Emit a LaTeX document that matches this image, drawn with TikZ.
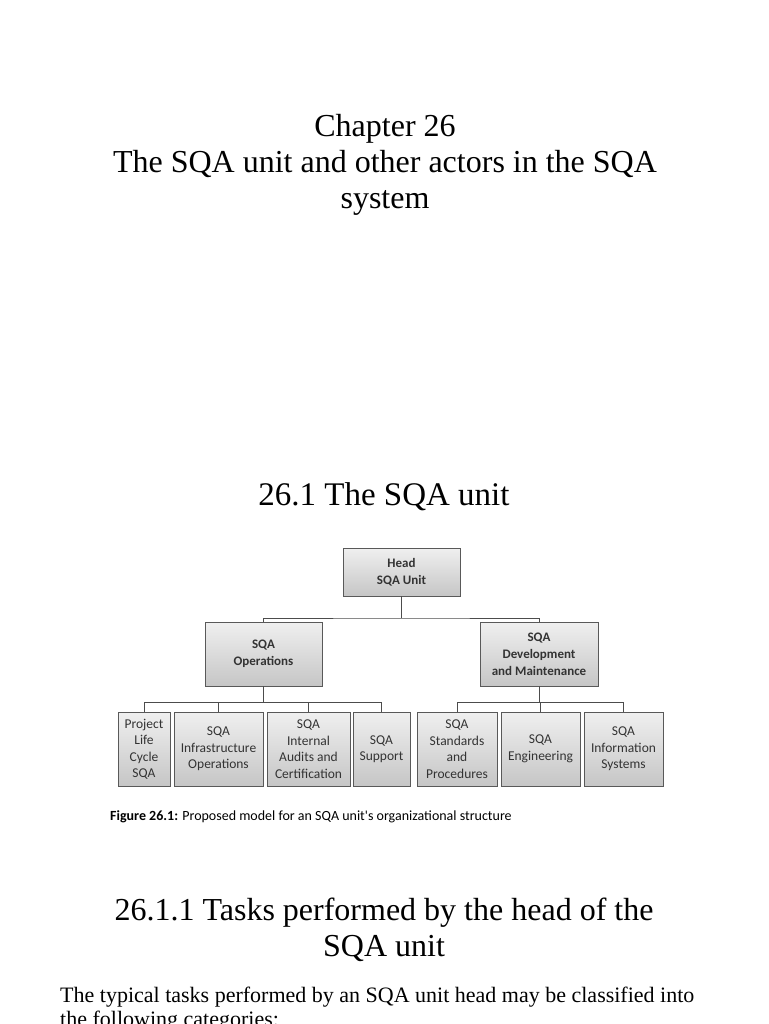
\documentclass[tikz,border=0pt]{standalone}
\usepackage{fontspec}
\setmainfont{Liberation Serif}
\newfontfamily\boxfont{Carlito}
\usetikzlibrary{shadows}
\begin{document}
\begin{tikzpicture}[x=1pt,y=-1pt,
  org/.style={draw=gray!70!black,line width=0.8pt,top color=gray!12,bottom color=gray!45,
    align=center,font=\boxfont\fontsize{13.5}{16.5}\selectfont,text=black!80,inner sep=0pt,
    drop shadow={shadow xshift=1pt,shadow yshift=-1pt,fill=gray!80}},
  hd/.style={org,font=\boxfont\bfseries\fontsize{13}{17}\selectfont},
  conn/.style={draw=gray!60!black,line width=0.9pt},
  title/.style={font=\fontsize{32}{36}\selectfont,align=center}]
\useasboundingbox (0,0) rectangle (768,1024);
\node[title] (t1) at (385,165) {Chapter 26\\The SQA unit and other actors in the SQA\\system};
\node[title,font=\fontsize{33}{36}\selectfont] (t2) at (384,497) {26.1 The SQA unit};
\node[hd,minimum width=117,minimum height=48] (head) at (401.5,572) {Head\\SQA Unit};
\node[hd,minimum width=117,minimum height=64] (ops) at (263.5,654) {SQA\\Operations};
\node[hd,minimum width=118,minimum height=64] (dev) at (539,654) {SQA\\Development\\and Maintenance};
\node[org,minimum width=52,minimum height=74] (b1) at (144,749) {Project\\Life\\Cycle\\SQA};
\node[org,minimum width=89,minimum height=74] (b2) at (218.5,749) {SQA\\Infrastructure\\Operations};
\node[org,minimum width=83,minimum height=74] (b3) at (308.5,749) {SQA\\Internal\\Audits and\\Certification};
\node[org,minimum width=57,minimum height=74] (b4) at (381.5,749) {SQA\\Support};
\node[org,minimum width=80,minimum height=74] (b5) at (457,749) {SQA\\Standards\\and\\Procedures};
\node[org,minimum width=79,minimum height=74] (b6) at (540.5,749) {SQA\\Engineering};
\node[org,minimum width=79,minimum height=74] (b7) at (623.5,749) {SQA\\Information\\Systems};
\coordinate (hj) at (401.5,618);
\draw[conn] (head.south) -- (hj);
\draw[conn] (ops.north) |- (hj) -| (dev.north);
\foreach \b in {b1,b2,b3,b4}{\draw[conn] (ops.south) -- ++(0,16) -| (\b.north);}
\foreach \b in {b5,b6,b7}{\draw[conn] (dev.south) -- ++(0,16) -| (\b.north);}
\node[anchor=west,font=\boxfont\fontsize{14}{16}\selectfont,inner sep=0pt] (cap) at (110,817) {\textbf{Figure 26.1:} Proposed model for an SQA unit's organizational structure};
\node[title] (t3) at (384,930) {26.1.1 Tasks performed by the head of the\\SQA unit};
\node[anchor=north west,font=\fontsize{22}{24}\selectfont,align=left,inner sep=0pt] (body) at (60,987) {The typical tasks performed by an SQA unit head may be classified into\\the following categories:};
\end{tikzpicture}
\end{document}
